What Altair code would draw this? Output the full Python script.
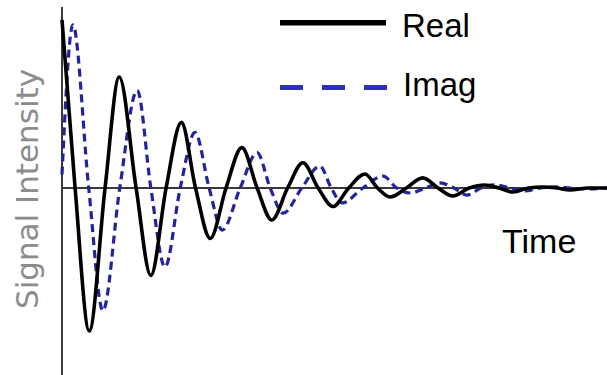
import altair as alt
import pandas as pd

# Free induction decay: real (in-phase) and imaginary (quadrature) components
real_t = [0, 2.4, 5.0, 7.9, 10.5, 13.6, 16.3, 19.1, 21.9, 24.5,
          27.2, 30.1, 33.0, 35.8, 38.5, 41.4, 44.2, 47.0, 49.7, 52.6,
          55.6, 57.9, 60.2, 63.2, 66.2, 69.0, 71.7, 74.7, 77.6, 80.2,
          82.8, 85.6, 88.3, 90.8, 93.2, 96.6, 100]
real_v = [1.0, 0, -0.85, 0, 0.66, 0, -0.52, 0, 0.39, 0,
          -0.30, 0, 0.24, 0, -0.19, 0, 0.15, 0, -0.11, 0,
          0.083, 0, -0.054, 0, 0.06, 0, -0.048, 0, 0.018, 0,
          -0.024, 0, 0.006, 0, -0.012, 0, 0]

imag_t = [0, 2.0, 4.9, 7.5, 10.6, 13.8, 16.3, 18.9, 21.7, 24.4,
          27.0, 29.4, 32.7, 35.8, 38.2, 40.6, 44.0, 47.3, 49.4, 51.4,
          55.2, 58.9, 61.4, 63.9, 66.7, 69.4, 71.9, 74.3, 76.9, 79.4,
          82.2, 85.0, 87.8, 90.5, 93.3, 96.0, 100]
imag_v = [0.08, 0.97, 0, -0.73, 0, 0.58, 0, -0.47, 0, 0.33,
          0, -0.25, 0, 0.21, 0, -0.15, 0, 0.13, 0, -0.089,
          0, 0.071, 0, -0.03, 0, 0.03, 0, -0.042, 0, 0.018,
          0, -0.018, 0, 0.006, 0, -0.006, 0]

BLUE = "#23239a"
LEGEND_BLUE = "#2d31b8"

real_df = pd.DataFrame({"t": real_t, "v": real_v})
imag_df = pd.DataFrame({"t": imag_t, "v": imag_v})

xs = alt.Scale(domain=[0, 100], nice=False, zero=False)
ys = alt.Scale(domain=[-1.1, 1.07], nice=False, zero=False)

x_enc = alt.X("t:Q", scale=xs, axis=None)
y_enc = alt.Y("v:Q", scale=ys, axis=None)

# axis lines
origin = pd.DataFrame({"t": [0], "v": [0]})
v_axis = alt.Chart(origin).mark_rule(color="#3a3a3a", strokeWidth=2).encode(
    x=x_enc, y=alt.value(-1), y2=alt.value(367)
)
h_axis = alt.Chart(origin).mark_rule(color="#3a3a3a", strokeWidth=2).encode(
    y=y_enc, x=alt.value(0), x2=alt.value(545)
)

imag_line = alt.Chart(imag_df).mark_line(
    color=BLUE, strokeWidth=3.2, strokeDash=[8, 5], interpolate="monotone"
).encode(x=x_enc, y=y_enc)

real_line = alt.Chart(real_df).mark_line(
    color="black", strokeWidth=3.6, interpolate="monotone"
).encode(x=x_enc, y=y_enc)

# legend
leg_real = alt.Chart(origin).mark_rule(color="black", strokeWidth=5.5).encode(
    x=alt.value(218), x2=alt.value(324), y=alt.value(14.7)
)
leg_imag = alt.Chart(origin).mark_rule(
    color=LEGEND_BLUE, strokeWidth=5, strokeDash=[23, 19]
).encode(x=alt.value(218), x2=alt.value(325), y=alt.value(79.5))

txt_style = dict(font="Liberation Sans", fontSize=33, color="black",
                 align="left", baseline="alphabetic")
leg_real_txt = alt.Chart(origin).mark_text(text="Real", **txt_style).encode(
    x=alt.value(340), y=alt.value(29)
)
leg_imag_txt = alt.Chart(origin).mark_text(text="Imag", **txt_style).encode(
    x=alt.value(341), y=alt.value(88)
)
time_txt = alt.Chart(origin).mark_text(
    text="Time", font="Liberation Sans", fontSize=34, color="black",
    align="left", baseline="alphabetic"
).encode(x=alt.value(440), y=alt.value(245))

ylabel = alt.Chart(origin).mark_text(
    text="Signal Intensity", font="DejaVu Sans", fontSize=31, color="#8c8c8c",
    angle=270, align="center", baseline="middle"
).encode(x=alt.value(-33), y=alt.value(181))

chart = alt.layer(
    v_axis, h_axis, imag_line, real_line,
    leg_real, leg_imag, leg_real_txt, leg_imag_txt, time_txt, ylabel
).properties(
    width=545, height=365,
    padding={"left": 62, "top": 8, "right": 0, "bottom": 2},
    autosize=alt.AutoSizeParams(type="none"),
    background="white",
).configure_view(stroke=None)

chart.save("out.html", embed_options={"renderer": "svg", "actions": False})
